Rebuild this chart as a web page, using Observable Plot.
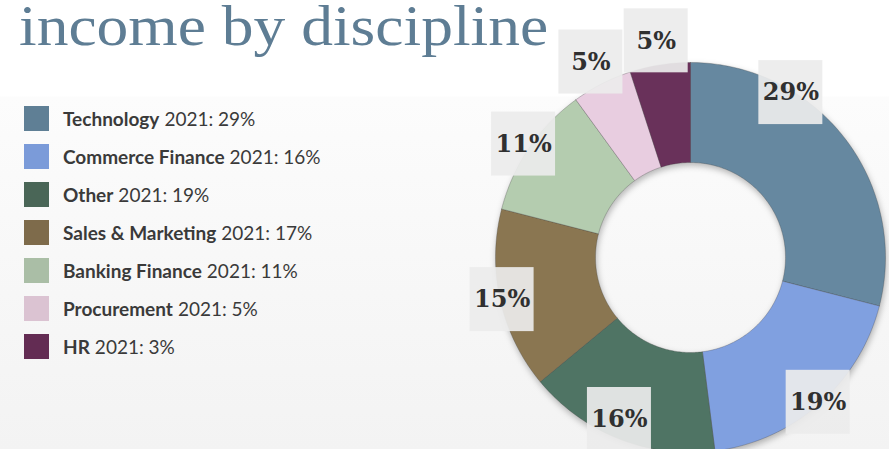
<!DOCTYPE html>
<html><head><meta charset="utf-8">
<script src="https://cdn.jsdelivr.net/npm/d3@7"></script>
<script src="https://cdn.jsdelivr.net/npm/@observablehq/plot@0.6"></script>
<style>
html,body{margin:0;padding:0;}
body{width:889px;height:449px;overflow:hidden;background:linear-gradient(#ffffff 0px,#ffffff 96px,#fcfcfc 97px,#f3f3f3 449px);}
#wrap{position:relative;width:889px;height:449px;}
#chart{position:absolute;left:0;top:0;}
#title{position:absolute;left:19px;top:0px;font-family:"Liberation Serif",serif;font-size:58px;line-height:52px;color:#5e7d94;white-space:nowrap;transform:scaleX(1.095);transform-origin:0 0;}
#legend{position:absolute;left:24px;top:106px;font-family:Lato,sans-serif;font-size:19px;color:#3a3a3a;}
.row{display:flex;align-items:center;height:25px;margin-bottom:13px;white-space:nowrap;}
.sw{width:25px;height:25px;margin-right:14px;flex:none;}
.row b{font-weight:700;margin-right:5px;}
#chart g[aria-label="line"]{filter:drop-shadow(1px 3px 3px rgba(0,0,0,0.28));}
</style>
</head><body>
<div id="wrap">
  <div id="chart"></div>
  <div id="title"></div>
  <div id="legend"></div>
</div>
<script>
// ---- data ----
const titleText = "income by discipline";
const categories = ["Technology","Commerce Finance","Other","Sales & Marketing","Banking Finance","Procurement","HR"];
const pieValues = [29,19,16,15,11,5,5];
const legendYear = "2021";
const legendValues = [29,16,19,17,11,5,3];
const pieColors = ["#6688a0","#80a0e0","#4f7464","#8a7651","#b4ccaf","#e8cde0","#69315a"];
const legendColors = ["#5f7f95","#7b9bd9","#4a6657","#7e6b4b","#aabea6","#dbc3d2","#632c53"];

// ---- layout ----
const W = 889, H = 449;
const CX = 690, CY = 257, R = 195;      // donut centre / outer radius (px)
const INNER = 95 / R;                  // inner radius fraction
const BOX = 32 / R;                    // half size of label box (data units)

document.getElementById("title").textContent = titleText;
const legend = d3.select("#legend");
categories.forEach((c, i) => {
  const row = legend.append("div").attr("class", "row");
  row.append("div").attr("class", "sw").style("background", legendColors[i]);
  const t = row.append("div");
  t.append("b").text(c);
  t.append("span").text(`${legendYear}: ${legendValues[i]}%`);
});

const total = d3.sum(pieValues);
let acc = 0;
const slices = categories.map((c, i) => {
  const a0 = acc / total * 2 * Math.PI;
  acc += pieValues[i];
  const a1 = acc / total * 2 * Math.PI;
  return {c, i, v: pieValues[i], a0, a1};
});

const ring = slices.flatMap(s => {
  const n = Math.max(6, Math.ceil((s.a1 - s.a0) / (Math.PI / 180)));
  const angs = d3.range(n + 1).map(k => s.a0 + (s.a1 - s.a0) * k / n);
  const pts = angs.map(a => ({c: s.c, x: Math.sin(a), y: Math.cos(a)}));
  angs.slice().reverse().forEach(a => pts.push({c: s.c, x: INNER * Math.sin(a), y: INNER * Math.cos(a)}));
  pts.push({...pts[0]});
  return pts;
});

const yMin = -(H - CY - 30) / R;
const labels = slices.map(s => {
  const f = s.i === 0 ? 0.3 : 0.5;               // wide first slice: label nearer its start
  const a = s.a0 + (s.a1 - s.a0) * f;
  const r = Math.max(0.99, 1.2 - 0.015 * s.v);   // narrow slices push labels outward
  return {v: s.v, x: r * Math.sin(a), y: Math.max(yMin, r * Math.cos(a))};
});

const plot = Plot.plot({
  width: W, height: H, margin: 0,
  style: "background: transparent; overflow: visible;",
  x: {domain: [-CX / R, (W - CX) / R], range: [0, W], axis: null},
  y: {domain: [-(H - CY) / R, CY / R], range: [H, 0], axis: null},
  color: {domain: categories, range: pieColors},
  marks: [
    Plot.line(ring, {x: "x", y: "y", z: "c", fill: "c", stroke: "#3a3a3a", strokeOpacity: 0.35, strokeWidth: 0.8, curve: "linear"}),
    Plot.rect(labels, {x1: d => d.x - BOX, x2: d => d.x + BOX, y1: d => d.y - BOX, y2: d => d.y + BOX, fill: "#ebebeb", fillOpacity: 0.92}),
    Plot.text(labels, {x: "x", y: "y", text: d => d.v + "%", fontFamily: "DejaVu Serif", fontWeight: "bold", fontSize: 24, fill: "#303030"})
  ]
});
document.getElementById("chart").appendChild(plot);
</script>
</body></html>
